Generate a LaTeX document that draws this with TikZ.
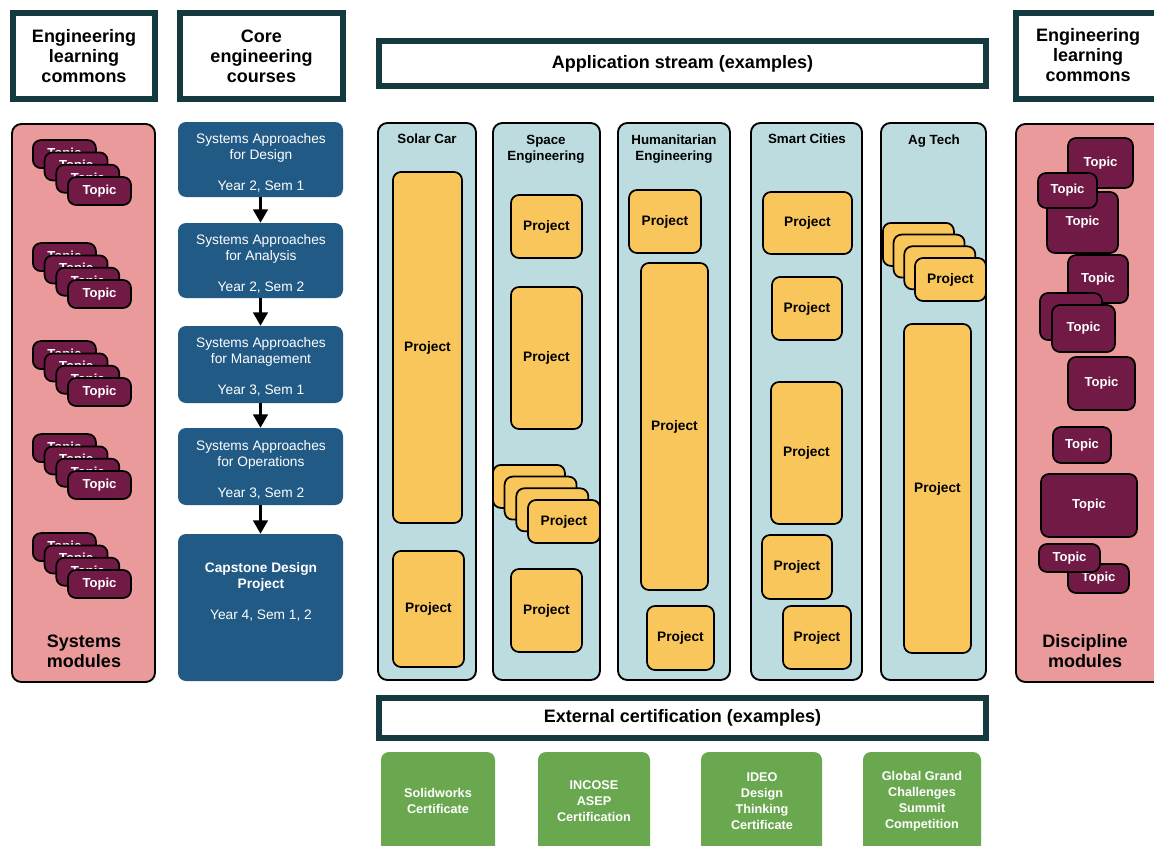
\documentclass[tikz,border=0pt]{standalone}
\usepackage{fontspec}
\setmainfont{Liberation Sans}
\usetikzlibrary{arrows.meta}
\definecolor{headteal}{HTML}{143A40}
\definecolor{pinkpanel}{HTML}{EA9A9A}
\definecolor{maroon}{HTML}{701A45}
\definecolor{courseblue}{HTML}{225A86}
\definecolor{streamblue}{HTML}{BDDCE0}
\definecolor{projyellow}{HTML}{F9C65C}
\definecolor{certgreen}{HTML}{6AA84F}
\newcommand{\pbox}[7]{\node[#2, minimum width={(#5)*0.75pt}, minimum height={(#6)*0.75pt}] (#1) at ({#3+(#5)/2},{#4+(#6)/2}) {#7};}
\tikzset{
  topic/.style={draw=black, line width=1.3pt, fill=maroon, rounded corners=6pt, text=white, font=\bfseries\fontsize{9.8}{11}\selectfont, inner sep=0pt},
  project/.style={draw=black, line width=1.3pt, fill=projyellow, rounded corners=6pt, font=\bfseries\fontsize{10.3}{12}\selectfont, inner sep=0pt},
  panel/.style={draw=black, line width=1.4pt, rounded corners=7pt, inner sep=0pt},
  header/.style={draw=headteal, line width=4.9pt, fill=white, inner sep=0pt, align=center, font=\bfseries\fontsize{13.5}{15}\selectfont},
  course/.style={fill=courseblue, rounded corners=6pt, inner sep=0pt},
  coursetext/.style={text=white, align=center, font=\fontsize{10.3}{12}\selectfont, inner sep=0pt},
  cert/.style={fill=certgreen, rounded corners=6pt, inner sep=0pt},
  certtext/.style={text=white, align=center, font=\bfseries\fontsize{9.5}{12}\selectfont, inner sep=0pt},
  streamtitle/.style={align=center, font=\bfseries\fontsize{10}{12}\selectfont, inner sep=0pt},
  bigtext/.style={align=center, font=\bfseries\fontsize{13.5}{15}\selectfont, inner sep=0pt},
  arr/.style={line width=1.7pt, -{Triangle[width=11pt,length=10pt]}}
}
\begin{document}
\begin{tikzpicture}[x=0.75pt,y=-0.75pt]
\useasboundingbox (0,0) rectangle (1154,846);
\fill[white] (0,0) rectangle (1154,846);
% headers
\pbox{hleft}{header}{13}{13}{142}{86}{Engineering\\learning\\commons}
\pbox{hcore}{header}{180}{13}{163}{86}{Core\\engineering\\courses}
\pbox{happ}{header}{379}{41}{607}{45}{Application stream (examples)}
\pbox{hright}{header, text width=104pt}{1016}{13}{146}{86}{}
\node[bigtext] (hrighttext) at (1088,55) {Engineering\\learning\\commons};
\pbox{hext}{header}{379}{698}{607}{40}{External certification (examples)}
% left panel
\pbox{lpanel}{panel, fill=pinkpanel}{12}{124}{143}{558}{}
\node[bigtext] (lpaneltext) at (84,651) {Systems\\modules};
\foreach \s/\yf in {1/177,2/280,3/378,4/471,5/570}{
  \foreach \i in {0,...,3}{
    \pgfmathsetmacro{\xx}{68-(3-\i)*11.7}
    \pgfmathsetmacro{\yy}{\yf-(3-\i)*12.3}
    \pbox{t\s-\i}{topic}{\xx}{\yy}{63}{28}{\raisebox{-1pt}{Topic}}
  }
}
% core courses
\pbox{c1}{course}{178}{122}{165}{75}{}
\pbox{c2}{course}{178}{223}{165}{75}{}
\pbox{c3}{course}{178}{326}{165}{77}{}
\pbox{c4}{course}{178}{428}{165}{77}{}
\pbox{c5}{course}{178}{534}{165}{147}{}
\node[coursetext] (c1t) at (261,148) {Systems Approaches\\for Design};
\node[coursetext] (c1y) at (261,187) {Year 2, Sem 1};
\node[coursetext] (c2t) at (261,249) {Systems Approaches\\for Analysis};
\node[coursetext] (c2y) at (261,288) {Year 2, Sem 2};
\node[coursetext] (c3t) at (261,352) {Systems Approaches\\for Management};
\node[coursetext] (c3y) at (261,391) {Year 3, Sem 1};
\node[coursetext] (c4t) at (261,455) {Systems Approaches\\for Operations};
\node[coursetext] (c4y) at (261,494) {Year 3, Sem 2};
\node[coursetext, font=\bfseries\fontsize{10.3}{12}\selectfont] (c5t) at (261,577) {Capstone Design\\Project};
\node[coursetext] (c5y) at (261,616) {Year 4, Sem 1, 2};
\draw[arr] (c1.south) -- (c2.north);
\draw[arr] (c2.south) -- (c3.north);
\draw[arr] (c3.south) -- (c4.north);
\draw[arr] (c4.south) -- (c5.north);
% stream panels
\pbox{sp1}{panel, fill=streamblue}{378}{123}{98}{557}{}
\pbox{sp2}{panel, fill=streamblue}{493}{123}{107}{557}{}
\pbox{sp3}{panel, fill=streamblue}{618}{123}{112}{557}{}
\pbox{sp4}{panel, fill=streamblue}{751}{123}{111}{557}{}
\pbox{sp5}{panel, fill=streamblue}{881}{123}{105}{557}{}
\node[streamtitle] (sp1t) at (427,139) {Solar Car};
\node[streamtitle] (sp2t) at (546,149) {Space\\Engineering};
\node[streamtitle] (sp3t) at (674,149) {Humanitarian\\Engineering};
\node[streamtitle] (sp4t) at (807,139) {Smart Cities};
\node[streamtitle] (sp5t) at (934,141) {Ag Tech};
% projects
\pbox{p11}{project}{393}{172}{69}{351}{Project}
\pbox{p12}{project}{393}{551}{71}{116}{Project}
\pbox{p21}{project}{511}{195}{71}{63}{Project}
\pbox{p22}{project}{511}{287}{71}{142}{Project}
\foreach \i in {0,...,3}{
  \pgfmathsetmacro{\xx}{528-(3-\i)*11.7}
  \pgfmathsetmacro{\yy}{500-(3-\i)*11.7}
  \pbox{p2s\i}{project}{\xx}{\yy}{72}{43}{Project}
}
\pbox{p23}{project}{511}{569}{71}{83}{Project}
\pbox{p31}{project}{629}{190}{72}{63}{Project}
\pbox{p32}{project}{641}{263}{67}{327}{Project}
\pbox{p33}{project}{647}{606}{67}{64}{Project}
\pbox{p41}{project}{763}{192}{89}{62}{Project}
\pbox{p42}{project}{772}{277}{70}{63}{Project}
\pbox{p43}{project}{771}{382}{71}{142}{Project}
\pbox{p44}{project}{762}{535}{70}{64}{Project}
\pbox{p45}{project}{783}{606}{68}{63}{Project}
\foreach \i in {0,...,3}{
  \pgfmathsetmacro{\xx}{915-(3-\i)*10.7}
  \pgfmathsetmacro{\yy}{258-(3-\i)*11.7}
  \pbox{p5s\i}{project}{\xx}{\yy}{71}{43}{Project}
}
\pbox{p52}{project}{904}{324}{67}{329}{Project}
% right panel
\pbox{rpanel}{panel, fill=pinkpanel}{1016}{124}{150}{558}{}
\node[bigtext] (rpaneltext) at (1085,651) {Discipline\\modules};
\pbox{r1}{topic}{1068}{138}{65}{50}{Topic}
\pbox{r3}{topic}{1047}{192}{71}{61}{Topic}
\pbox{r2}{topic}{1038}{173}{59}{35}{Topic}
\pbox{r4}{topic}{1068}{255}{60}{48}{Topic}
\pbox{r5b}{topic}{1040}{293}{62}{47}{}
\pbox{r5}{topic}{1052}{305}{63}{47}{Topic}
\pbox{r6}{topic}{1068}{357}{67}{53}{Topic}
\pbox{r7}{topic}{1053}{427}{58}{36}{Topic}
\pbox{r8}{topic}{1041}{474}{96}{63}{Topic}
\pbox{r10}{topic}{1068}{564}{61}{29}{Topic}
\pbox{r9}{topic}{1039}{544}{61}{28}{Topic}
% certificates
\pbox{g1}{cert}{381}{752}{114}{110}{}
\pbox{g2}{cert}{538}{752}{112}{110}{}
\pbox{g3}{cert}{701}{752}{121}{110}{}
\pbox{g4}{cert}{863}{752}{118}{110}{}
\node[certtext] (g1t) at (438,801) {Solidworks\\Certificate};
\node[certtext] (g2t) at (594,801) {INCOSE\\ASEP\\Certification};
\node[certtext] (g3t) at (762,801) {IDEO\\Design\\Thinking\\Certificate};
\node[certtext] (g4t) at (922,801) {Global Grand\\Challenges\\Summit\\Competition};
\end{tikzpicture}
\end{document}
